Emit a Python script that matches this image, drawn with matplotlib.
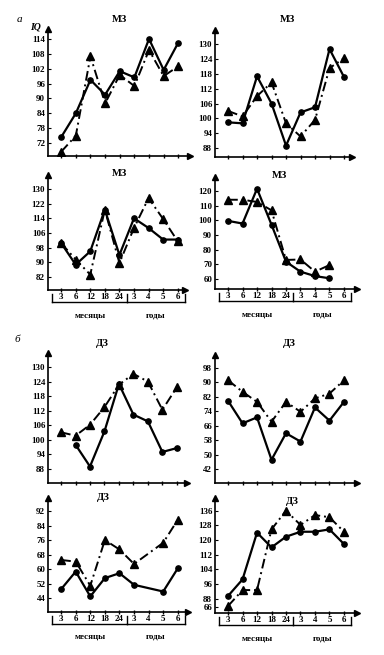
import numpy as np
import matplotlib
matplotlib.use("Agg")
import matplotlib.pyplot as plt

plt.rcParams['font.family'] = ['Liberation Serif', 'DejaVu Serif']

# --- DATA ---
x_labels = ['3', '6', '12', '18', '24', '3', '4', '5', '6']
nan = np.nan

# a) МЗ
mz1_solid = [74.4, 84, 97.5, 91.5, 101, 98.5, 114, 101.5, 112.5]
mz1_dash = [68.5, 75, 107, 88, 99.5, 95, 109.5, 99, 103]
mz2_solid = [98.4, 98, 117, 106, 89, 102.4, 104.5, 128, 116.7]
mz2_dash = [103, 100.8, 109, 114.5, 98, 92.7, 99.4, 120.3, 124.3]
mz3_solid = [100.5, 88.7, 96, 118.7, 94, 114, 108.7, 102.4, 102.4]
mz3_dash = [100.5, 91.5, 83.3, 118.7, 89.6, 108.7, 125, 113.6, 101.5]
mz4_solid = [99.6, 97.8, 121.5, 97, 71.8, 65, 62, 60.5, nan]
mz4_dash = [114, 114, 112.5, 106.8, 73, 73.3, 65, 69.5, nan]

# б) ДЗ
dz1_solid = [nan, 98, 89, 103.5, 123, 110.4, 107.6, 95, 96.6]
dz1_dash = [103.1, 101.7, 106.2, 113.5, 122.7, 127.2, 124, 112.4, 121.7]
dz2_solid = [79.8, 67.3, 70.6, 47.1, 61.8, 57.2, 76.1, 68.8, 79.2]
dz2_dash = [91.2, 84.8, 79.2, 68.2, 79.2, 73.7, 81.1, 83.8, 91.2]
dz3_solid = [48.9, 58.6, 44.9, 55, 57.7, 51.3, nan, 47.6, 60.4]
dz3_dash = [65, 64.1, 50.8, 76, 70.8, 62.8, nan, 74.5, 87.2]
dz4_solid = [89.5, 98.5, 124, 116, 121.8, 124.5, 124.5, 125.8, 117.8]
dz4_dash = [84, 92.7, 92.7, 125.8, 136, 128.2, 133.6, 132.4, 124.5]

W, H = 384, 655
fig = plt.figure(figsize=(W / 100, H / 100), dpi=100)
fig.patch.set_facecolor('white')


def make_axes(x0, y0, x1, y1):
    # pixel box: left, top, right, baseline
    return fig.add_axes([x0 / W, 1 - y1 / H, (x1 - x0) / W, (y1 - y0) / H])


def draw_panel(box, solid, dash, ylim, xlim, yticks, ylabels, title, title_xy,
               labels=False):
    ax = make_axes(*box)
    x = np.arange(len(x_labels))
    s = np.array(solid, dtype=float)
    d = np.array(dash, dtype=float)
    ms = ~np.isnan(s)
    md = ~np.isnan(d)
    ax.plot(x[md], d[md], color='black', lw=1.4, ls=(0, (5, 2, 1, 2)),
            marker='^', ms=5.5, zorder=3)
    ax.plot(x[ms], s[ms], color='black', lw=1.6, ls='-',
            marker='o', ms=3.8, zorder=4)
    ax.set_xlim(*xlim)
    ax.set_ylim(*ylim)
    for sp in ['top', 'right']:
        ax.spines[sp].set_visible(False)
    for sp in ['left', 'bottom']:
        ax.spines[sp].set_linewidth(1.2)
    ax.plot(0, 1, marker='^', color='black', ms=4, transform=ax.transAxes,
            clip_on=False)
    ax.plot(1, 0, marker='>', color='black', ms=4, transform=ax.transAxes,
            clip_on=False)
    ax.set_xticks(x)
    ax.set_xticklabels([])
    ax.tick_params(axis='x', direction='inout', length=3, width=1)
    ax.set_yticks(yticks)
    ax.set_yticklabels(ylabels, fontsize=6.5, fontweight='bold')
    ax.tick_params(axis='y', direction='in', length=2, width=0.8, pad=2)
    ax.patch.set_alpha(0)
    fig.text(title_xy[0] / W, 1 - title_xy[1] / H, title, fontsize=7.5,
             fontweight='bold', ha='center', va='center')
    if labels:
        tr = ax.get_xaxis_transform()
        hpx = box[3] - box[1]
        ty = -7 / hpx
        for xi, lab in zip(x, x_labels):
            ax.text(xi, ty, lab, transform=tr, fontsize=6.5, fontweight='bold',
                    ha='center', va='center', clip_on=False)
        uy = -12 / hpx
        by = -9 / hpx
        ax.plot([-0.6, 4.5], [uy, uy], transform=tr, color='black', lw=1,
                clip_on=False)
        ax.plot([4.5, 8.5], [uy, uy], transform=tr, color='black', lw=1,
                clip_on=False)
        for xb in [-0.6, 4.5, 8.5]:
            ax.plot([xb, xb], [by + 5 / hpx, uy], transform=tr, color='black',
                    lw=1, clip_on=False)
        ly = -25 / hpx
        ax.text(2.0, ly, 'месяцы', transform=tr, fontsize=6.5,
                fontweight='bold', ha='center', va='center', clip_on=False)
        ax.text(6.5, ly, 'годы', transform=tr, fontsize=6.5,
                fontweight='bold', ha='center', va='center', clip_on=False)
    return ax


def ticks(vals):
    return vals, [str(v) for v in vals]


# --- a) МЗ ---
t = ticks([72, 78, 84, 90, 96, 102, 108, 114])
draw_panel((48, 29, 190, 156), mz1_solid, mz1_dash, (66.8, 118), (-0.9, 8.8),
           t[0], t[1], 'МЗ', (120, 19))
t = ticks([88, 94, 100, 106, 112, 118, 124, 130])
draw_panel((215, 30, 352, 157), mz2_solid, mz2_dash, (84.4, 135.7),
           (-0.9, 8.55), t[0], t[1], 'МЗ', (287, 19))
t = ticks([82, 90, 98, 106, 114, 122, 130])
draw_panel((48, 175, 185, 290), mz3_solid, mz3_dash, (74.9, 137.6),
           (-0.9, 8.5), t[0], t[1], 'МЗ', (120, 174), labels=True)
t = ticks([60, 70, 80, 90, 100, 110, 120])
draw_panel((215, 177, 357, 289), mz4_solid, mz4_dash, (53.2, 129.5),
           (-0.9, 8.9), t[0], t[1], 'МЗ', (280, 176), labels=True)

# --- б) ДЗ ---
t = ticks([88, 94, 100, 106, 112, 118, 124, 130])
draw_panel((48, 353, 187, 483), dz1_solid, dz1_dash, (82.2, 135.8),
           (-0.9, 8.7), t[0], t[1], 'ДЗ', (102, 344))
t = ticks([42, 50, 58, 66, 74, 82, 90, 98])
draw_panel((215, 355, 357, 483), dz2_solid, dz2_dash, (34.2, 105.2),
           (-0.9, 8.9), t[0], t[1], 'ДЗ', (289, 344))
t = ticks([44, 52, 60, 68, 76, 84, 92])
draw_panel((48, 498, 188, 612), dz3_solid, dz3_dash, (36.3, 99.2),
           (-0.9, 8.7), t[0], t[1], 'ДЗ', (103, 498), labels=True)
draw_panel((215, 498, 357, 613), dz4_solid, dz4_dash, (80.2, 142.9),
           (-0.9, 8.9), [136, 128, 120, 112, 104, 96, 88, 83.5],
           ['136', '128', '120', '112', '104', '96', '88', '66'],
           'ДЗ', (292, 502), labels=True)

fig.text(17 / W, 1 - 20 / H, 'а', fontsize=8, style='italic', va='center')
fig.text(30 / W, 1 - 27 / H, 'IQ', fontsize=7, style='italic',
         fontweight='bold', va='center')
fig.text(15 / W, 1 - 340 / H, 'б', fontsize=8, style='italic', va='center')

fig.savefig('out.png', dpi=100, facecolor='white')
